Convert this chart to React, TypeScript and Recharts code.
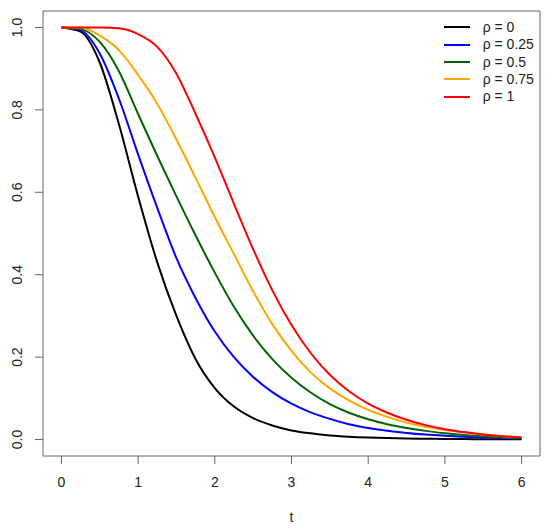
import React from "react";
import { LineChart, Line, XAxis, YAxis, ReferenceArea } from "recharts";

const tValues = [0, 0.25, 0.5, 0.75, 1, 1.25, 1.5, 1.75, 2, 2.25, 2.5, 2.75, 3, 3.25, 3.5, 3.75, 4, 4.25, 4.5, 4.75, 5, 5.25, 5.5, 5.75, 6];

const rho0 = [1.0, 0.99, 0.915, 0.765, 0.59, 0.43, 0.3, 0.195, 0.125, 0.08, 0.052, 0.034, 0.022, 0.015, 0.01, 0.007, 0.005, 0.0035, 0.0025, 0.0018, 0.0013, 0.001, 0.0008, 0.0006, 0.0005];
const rho025 = [1.0, 0.993, 0.937, 0.827, 0.692, 0.562, 0.44, 0.343, 0.262, 0.2, 0.152, 0.115, 0.087, 0.066, 0.05, 0.037, 0.028, 0.021, 0.016, 0.012, 0.009, 0.0065, 0.0048, 0.0035, 0.0025];
const rho05 = [1.0, 0.996, 0.965, 0.894, 0.79, 0.688, 0.59, 0.495, 0.405, 0.322, 0.252, 0.195, 0.15, 0.114, 0.086, 0.065, 0.049, 0.037, 0.028, 0.021, 0.015, 0.011, 0.008, 0.0055, 0.004];
const rho075 = [1.0, 1.0, 0.98, 0.945, 0.885, 0.815, 0.728, 0.635, 0.54, 0.45, 0.36, 0.28, 0.215, 0.163, 0.124, 0.095, 0.072, 0.055, 0.041, 0.031, 0.023, 0.017, 0.012, 0.008, 0.006];
const rho1 = [1.0, 1.0, 1.0, 0.998, 0.984, 0.953, 0.888, 0.79, 0.685, 0.572, 0.462, 0.362, 0.278, 0.21, 0.157, 0.117, 0.087, 0.065, 0.048, 0.035, 0.025, 0.018, 0.012, 0.008, 0.005];

const seriesKeys = ["r0", "r025", "r05", "r075", "r1"];
const seriesLabels = ["ρ = 0", "ρ = 0.25", "ρ = 0.5", "ρ = 0.75", "ρ = 1"];
const seriesColors = ["#000000", "#0000FF", "#006400", "#FFA500", "#FF0000"];
const seriesValues = [rho0, rho025, rho05, rho075, rho1];

const xTicks = [0, 1, 2, 3, 4, 5, 6];
const yTicks = [0, 0.2, 0.4, 0.6, 0.8, 1.0];

const data = tValues.map((t, i) => {
  const row: Record<string, number> = { t };
  seriesKeys.forEach((k, j) => {
    row[k] = seriesValues[j][i];
  });
  return row;
});

const FONT = "'Liberation Sans', Arial, Helvetica, sans-serif";
const TEXT = "#222";
const FRAME = "#666";

const YTick = (props: any) => {
  const { y, payload } = props;
  return (
    <text
      transform={`translate(16.7, ${y}) rotate(-90)`}
      textAnchor="middle"
      dy="0.355em"
      fontSize={14}
      fontFamily={FONT}
      fill={TEXT}
    >
      {Number(payload.value).toFixed(1)}
    </text>
  );
};

export default function App() {
  return (
    <div style={{ position: "absolute", left: 0, top: 0, width: 550, height: 532, background: "#fff" }}>
      <LineChart
        width={550}
        height={532}
        data={data}
        margin={{ top: 11, right: 10, bottom: 0, left: 0 }}
      >
        <XAxis
          dataKey="t"
          type="number"
          domain={[-0.24, 6.24]}
          allowDataOverflow
          ticks={xTicks}
          height={76}
          tickSize={8}
          tickMargin={13}
          axisLine={false}
          tickLine={{ stroke: FRAME }}
          tick={{ fill: TEXT, fontSize: 14, fontFamily: FONT }}
          label={{ value: "t", position: "insideBottom", offset: 10, fill: TEXT, fontSize: 14, fontFamily: FONT }}
        />
        <YAxis
          type="number"
          domain={[-0.04, 1.04]}
          allowDataOverflow
          ticks={yTicks}
          width={43}
          tickSize={8}
          axisLine={false}
          tickLine={{ stroke: FRAME }}
          tick={<YTick />}
        />
        <ReferenceArea
          x1={-0.24}
          x2={6.24}
          y1={-0.04}
          y2={1.04}
          fill="none"
          fillOpacity={0}
          stroke={FRAME}
          strokeWidth={1}
          ifOverflow="visible"
        />
        {seriesKeys.map((k, j) => (
          <Line
            key={k}
            dataKey={k}
            type="monotone"
            stroke={seriesColors[j]}
            strokeWidth={2}
            dot={false}
            activeDot={false}
            isAnimationActive={false}
          />
        ))}
      </LineChart>
      <div
        style={{
          position: "absolute",
          left: 444,
          top: 18.7,
          fontFamily: FONT,
          fontSize: 14,
          color: TEXT,
        }}
      >
        {seriesLabels.map((lab, j) => (
          <div key={lab} style={{ display: "flex", alignItems: "center", height: 17.33 }}>
            <span style={{ display: "inline-block", width: 26, height: 2, background: seriesColors[j] }} />
            <span style={{ marginLeft: 12.7, lineHeight: "17px", whiteSpace: "nowrap" }}>{lab}</span>
          </div>
        ))}
      </div>
    </div>
  );
}
